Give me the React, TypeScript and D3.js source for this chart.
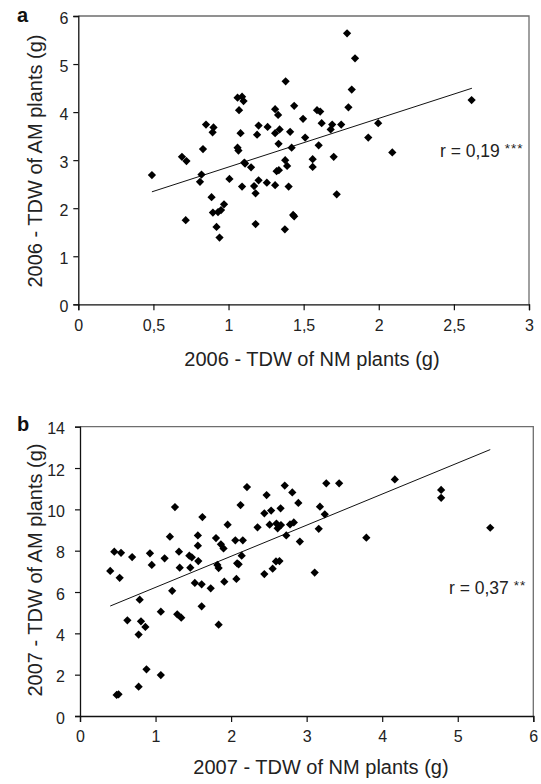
import { useEffect, useRef } from "react";
import * as d3 from "d3";

// 2006 panel: total dry weight, NM plants (x) vs AM plants (y)
const nm2006 = [
  0.49, 0.69, 0.72, 0.715, 0.85, 0.83, 0.82, 0.81, 0.9, 0.894, 0.887, 0.896,
  0.92, 0.94, 0.93, 0.95, 0.97, 1.006, 1.06, 1.09, 1.1, 1.07, 1.08, 1.06,
  1.066, 1.105, 1.11, 1.09, 1.15, 1.17, 1.18, 1.2, 1.18, 1.19, 1.2, 1.26,
  1.255, 1.31, 1.33, 1.31, 1.34, 1.333, 1.32, 1.335, 1.31, 1.38, 1.377, 1.39,
  1.375, 1.41, 1.437, 1.42, 1.4, 1.43, 1.437, 1.496, 1.51, 1.789, 1.842, 1.82,
  1.798, 1.589, 1.61, 1.62, 1.69, 1.68, 1.75, 1.996, 1.6, 1.56, 1.56, 1.7,
  1.93, 2.09, 1.72, 2.618,
];
const am2006 = [
  2.69, 3.07, 2.98, 1.75, 3.74, 3.23, 2.7, 2.55, 3.68, 3.58, 2.23, 1.91, 1.61,
  1.39, 1.92, 1.96, 2.08, 2.61, 4.3, 4.32, 4.23, 4.04, 3.56, 3.26, 3.2, 2.95,
  2.93, 2.45, 2.85, 2.46, 2.31, 2.58, 1.67, 3.53, 3.72, 3.69, 2.53, 4.06, 3.94,
  3.56, 3.64, 3.34, 2.77, 2.79, 2.48, 4.64, 3.0, 2.88, 1.56, 3.59, 4.13, 3.26,
  2.45, 1.86, 1.83, 3.86, 3.47, 5.64, 5.12, 4.47, 4.1, 4.04, 4.01, 3.77, 3.74,
  3.64, 3.74, 3.77, 3.31, 3.02, 2.86, 3.07, 3.47, 3.16, 2.29, 4.25,
];

// 2007 panel
const nm2007 = [
  0.4, 0.454, 0.543, 0.525, 0.69, 0.485, 0.51, 0.627, 0.79, 0.807, 0.865,
  0.776, 0.88, 0.776, 0.926, 0.95, 1.07, 1.07, 1.12, 1.19, 1.257, 1.31, 1.22,
  1.287, 1.34, 1.32, 1.447, 1.48, 1.46, 1.566, 1.56, 1.56, 1.62, 1.52, 1.61,
  1.61, 1.73, 1.8, 1.865, 1.9, 1.818, 1.835, 1.91, 1.835, 1.954, 2.056, 2.08,
  2.1, 2.07, 2.14, 2.155, 2.125, 2.21, 2.35, 2.44, 2.44, 2.47, 2.53, 2.51,
  2.55, 2.6, 2.616, 2.66, 2.655, 2.594, 2.64, 2.71, 2.73, 2.81, 2.78, 2.83,
  2.89, 2.91, 3.26, 3.43, 3.176, 3.24, 3.16, 3.106, 3.79, 4.167, 4.78, 4.78,
  5.43,
];
const am2007 = [
  7.02, 7.95, 7.9, 6.69, 7.69, 1.02, 1.05, 4.63, 5.63, 4.58, 4.31, 3.94, 2.26,
  1.42, 7.87, 7.31, 5.05, 1.98, 7.63, 8.68, 10.11, 7.95, 6.06, 4.92, 4.76,
  7.18, 7.76, 7.68, 7.18, 7.5, 8.24, 8.74, 9.63, 6.44, 6.37, 5.31, 6.18, 8.61,
  8.31, 8.11, 7.31, 7.16, 6.5, 4.42, 9.26, 8.5, 7.39, 7.34, 6.63, 7.76, 8.5,
  10.21, 11.08, 9.13, 6.87, 9.81, 10.69, 9.94, 9.26, 7.13, 9.31, 9.08, 9.24,
  10.05, 7.48, 7.5, 11.15, 8.74, 10.82, 9.27, 9.37, 10.31, 8.44, 11.26, 11.26,
  10.13, 9.76, 9.06, 6.94, 8.63, 11.45, 10.94, 10.56, 9.11,
];

// fitted lines as drawn in the figure: [x start, x end, intercept, slope]
const trend2006 = [0.49, 2.62, 1.845, 1.012];
const trend2007 = [0.4, 5.43, 4.72, 1.505];

const xTicks2006 = [0, 0.5, 1, 1.5, 2, 2.5, 3];
const yTicks2006 = [0, 1, 2, 3, 4, 5, 6];
const xTicks2007 = [0, 1, 2, 3, 4, 5, 6];
const yTicks2007 = [0, 2, 4, 6, 8, 10, 12, 14];

const FONT = "'Liberation Sans', Arial, Helvetica, sans-serif";
const fmt = (v: number) => String(v).replace(".", ",");

type Panel = {
  letter: string;
  xs: number[];
  ys: number[];
  trend: number[];
  xTicks: number[];
  yTicks: number[];
  box: { left: number; right: number; top: number; bottom: number };
  xTitle: string;
  yTitle: string;
  r: string;
  stars: string;
  rPos: [number, number];
  xTitlePos: [number, number];
  yTitlePos: [number, number];
  yLabelGap: number;
};

const panels: Panel[] = [
  {
    letter: "a",
    xs: nm2006,
    ys: am2006,
    trend: trend2006,
    xTicks: xTicks2006,
    yTicks: yTicks2006,
    box: { left: 78.3, right: 529, top: 16, bottom: 304.3 },
    xTitle: "2006 - TDW of NM plants (g)",
    yTitle: "2006 - TDW of AM plants (g)",
    r: "r = 0,19 ",
    stars: "***",
    rPos: [440, 157],
    xTitlePos: [312, 366],
    yTitlePos: [42, 161],
    yLabelGap: 10,
  },
  {
    letter: "b",
    xs: nm2007,
    ys: am2007,
    trend: trend2007,
    xTicks: xTicks2007,
    yTicks: yTicks2007,
    box: { left: 80, right: 533.3, top: 426.7, bottom: 716 },
    xTitle: "2007 - TDW of NM plants (g)",
    yTitle: "2007 - TDW of AM plants (g)",
    r: "r = 0,37 ",
    stars: "**",
    rPos: [449, 594],
    xTitlePos: [321, 774],
    yTitlePos: [42, 570],
    yLabelGap: 15,
  },
];

export default function App() {
  const ref = useRef<SVGSVGElement | null>(null);

  useEffect(() => {
    if (!ref.current) return;
    ref.current.innerHTML = "";
    const svg = d3.select(ref.current);
    const marker = d3.symbol(d3.symbolSquare, 34)();

    panels.forEach((p) => {
      const { left, right, top, bottom } = p.box;
      const x = d3
        .scaleLinear()
        .domain(d3.extent(p.xTicks) as [number, number])
        .range([left, right]);
      const y = d3
        .scaleLinear()
        .domain(d3.extent(p.yTicks) as [number, number])
        .range([bottom, top]);

      const g = svg.append("g").style("font-family", FONT);

      // grey frame on top / right
      g.append("path")
        .attr("d", `M${left},${top}H${right}V${bottom}`)
        .attr("fill", "none")
        .attr("stroke", "#6e6e6e")
        .attr("stroke-width", 1.3);

      // axes
      const xAxis = g
        .append("g")
        .attr("transform", `translate(0,${bottom})`)
        .call(
          d3
            .axisBottom(x)
            .tickValues(p.xTicks)
            .tickSize(6)
            .tickPadding(9)
            .tickFormat((d) => fmt(d as number))
        );
      xAxis.select(".domain").attr("stroke", "#111").attr("stroke-width", 1.3);
      xAxis.selectAll("line").attr("stroke", "#111").attr("stroke-width", 1.2);
      xAxis
        .selectAll("text")
        .attr("fill", "#222")
        .style("font-size", "16px")
        .style("font-family", FONT);

      const yAxis = g
        .append("g")
        .attr("transform", `translate(${left},0)`)
        .call(
          d3
            .axisLeft(y)
            .tickValues(p.yTicks)
            .tickSize(5)
            .tickPadding(p.yLabelGap - 5)
            .tickFormat((d) => fmt(d as number))
        );
      yAxis.select(".domain").attr("stroke", "#111").attr("stroke-width", 1.3);
      yAxis.selectAll("line").attr("stroke", "#111").attr("stroke-width", 1.2);
      yAxis
        .selectAll("text")
        .attr("fill", "#222")
        .attr("dy", "0.45em")
        .style("font-size", "16px")
        .style("font-family", FONT);

      // trend line
      const [t0, t1, a, b] = p.trend;
      g.append("path")
        .datum([t0, t1])
        .attr(
          "d",
          d3
            .line<number>()
            .x((d) => x(d))
            .y((d) => y(a + b * d))
        )
        .attr("stroke", "#111")
        .attr("stroke-width", 1)
        .attr("fill", "none");

      // points
      g.append("g")
        .selectAll("path")
        .data(p.xs.map((v, i) => [v, p.ys[i]]))
        .join("path")
        .attr("d", marker)
        .attr("transform", (d) => `translate(${x(d[0])},${y(d[1])}) rotate(45)`)
        .attr("fill", "#000");

      // r annotation
      const rt = g
        .append("text")
        .attr("x", p.rPos[0])
        .attr("y", p.rPos[1])
        .attr("fill", "#222")
        .style("font-size", "17.5px");
      rt.append("tspan").text(p.r);
      rt.append("tspan")
        .attr("dy", -4)
        .style("font-size", "13.5px")
        .attr("letter-spacing", 1)
        .text(p.stars);

      // axis titles
      g.append("text")
        .attr("x", p.xTitlePos[0])
        .attr("y", p.xTitlePos[1])
        .attr("text-anchor", "middle")
        .attr("fill", "#222")
        .style("font-size", "20px")
        .text(p.xTitle);
      g.append("text")
        .attr(
          "transform",
          `translate(${p.yTitlePos[0]},${p.yTitlePos[1]}) rotate(-90)`
        )
        .attr("text-anchor", "middle")
        .attr("fill", "#222")
        .style("font-size", "20px")
        .text(p.yTitle);

      // panel letter
      g.append("text")
        .attr("x", 17)
        .attr("y", top + (p.letter === "a" ? 6 : 4))
        .attr("font-weight", "bold")
        .attr("fill", "#111")
        .style("font-size", "20px")
        .text(p.letter);
    });
  }, []);

  return (
    <>
      <style>{"body{margin:0;background:#fff}"}</style>
      <svg ref={ref} width={541} height={784} style={{ display: "block" }} />
    </>
  );
}
